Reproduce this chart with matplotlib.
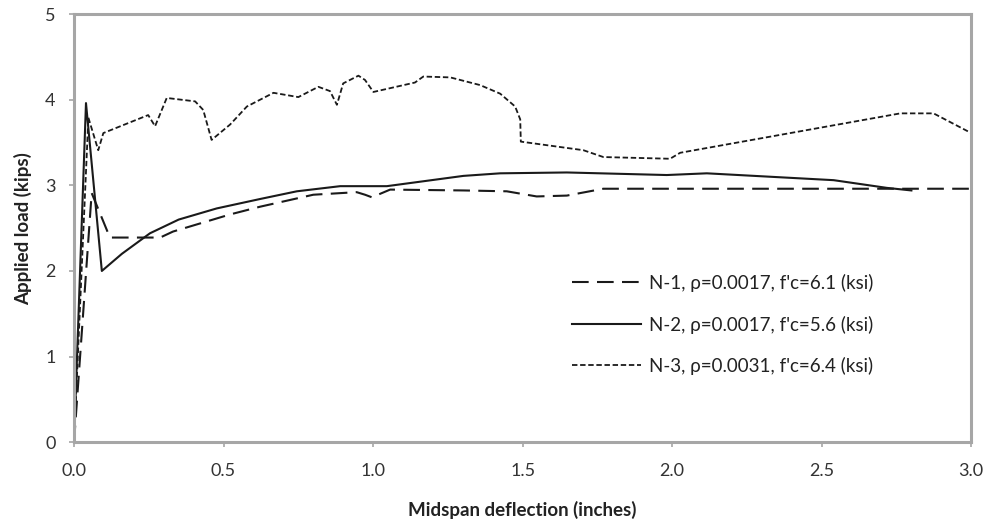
import matplotlib
matplotlib.use("Agg")
import matplotlib.pyplot as plt

plt.rcParams['font.family'] = ['Lato', 'DejaVu Sans']

# N-1, rho=0.0017, f'c=6.1 ksi
n1_x = [0.0, 0.059, 0.12, 0.288, 0.331, 0.522, 0.622, 0.80, 0.945, 0.973, 0.996,
        1.057, 1.302, 1.447, 1.547, 1.648, 1.77, 3.0]
n1_y = [0.0, 2.91, 2.39, 2.39, 2.46, 2.66, 2.75, 2.89, 2.92, 2.89, 2.86,
        2.95, 2.94, 2.93, 2.87, 2.88, 2.96, 2.96]

# N-2, rho=0.0017, f'c=5.6 ksi
n2_x = [0.0, 0.040, 0.093, 0.16, 0.254, 0.35, 0.477, 0.622, 0.745, 0.890, 1.046,
        1.302, 1.425, 1.648, 1.982, 2.116, 2.54, 2.718, 2.80]
n2_y = [0.0, 3.96, 2.00, 2.20, 2.44, 2.60, 2.73, 2.84, 2.93, 2.99, 2.99,
        3.11, 3.14, 3.15, 3.12, 3.14, 3.06, 2.97, 2.94]

# N-3, rho=0.0031, f'c=6.4 ksi
n3_x = [0.0, 0.048, 0.081, 0.098, 0.248, 0.271, 0.31, 0.405, 0.432, 0.46, 0.522,
        0.578, 0.667, 0.75, 0.817, 0.856, 0.879, 0.90, 0.951, 0.973, 1.001,
        1.14, 1.168, 1.258, 1.358, 1.425, 1.475, 1.492, 1.494, 1.703, 1.77,
        1.993, 2.027, 2.763, 2.874, 3.0]
n3_y = [0.0, 3.79, 3.41, 3.61, 3.82, 3.69, 4.02, 3.98, 3.88, 3.53, 3.71,
        3.92, 4.08, 4.03, 4.15, 4.10, 3.94, 4.19, 4.28, 4.23, 4.09,
        4.20, 4.27, 4.26, 4.17, 4.07, 3.92, 3.77, 3.51, 3.41, 3.33,
        3.31, 3.38, 3.84, 3.84, 3.61]

labels = ["N-1, \u03c1=0.0017, f'c=6.1 (ksi)",
          "N-2, \u03c1=0.0017, f'c=5.6 (ksi)",
          "N-3, \u03c1=0.0031, f'c=6.4 (ksi)"]

x_ticks = [0.0, 0.5, 1.0, 1.5, 2.0, 2.5, 3.0]
y_ticks = [0, 1, 2, 3, 4, 5]

fig = plt.figure(figsize=(9.87, 5.29), dpi=100)
ax = fig.add_axes([0.075, 0.164, 0.909, 0.8095])

ax.plot(n1_x, n1_y, color='#1a1a1a', lw=1.5, dashes=(8, 4), label=labels[0])
ax.plot(n2_x, n2_y, color='#1a1a1a', lw=1.5, label=labels[1])
ax.plot(n3_x, n3_y, color='#1a1a1a', lw=1.3, dashes=(3, 1.5), label=labels[2])

ax.set_xlim(0, 3.0)
ax.set_ylim(0, 5)
ax.set_xticks(x_ticks)
ax.set_xticklabels([f"{v:.1f}" for v in x_ticks])
ax.set_yticks(y_ticks)

for s in ax.spines.values():
    s.set_color('#a6a6a6')
    s.set_linewidth(2.2)
ax.tick_params(axis='both', colors='#a6a6a6', length=3.8, width=1.2,
               labelcolor='#333333', labelsize=13)
ax.tick_params(axis='x', pad=11)
ax.tick_params(axis='y', pad=9.5)

ax.set_xlabel("Midspan deflection (inches)", fontsize=13.5, fontweight='bold',
              color='#222222', labelpad=16)
ax.set_ylabel("Applied load (kips)", fontsize=13.5, fontweight='bold',
              color='#222222', labelpad=9)

ax.legend(loc='center left', bbox_to_anchor=(0.536, 0.275), frameon=False,
          fontsize=13.5, handlelength=3.7, labelspacing=1.25, handletextpad=0.4,
          labelcolor='#222222')

fig.savefig("out.png", dpi=100)
